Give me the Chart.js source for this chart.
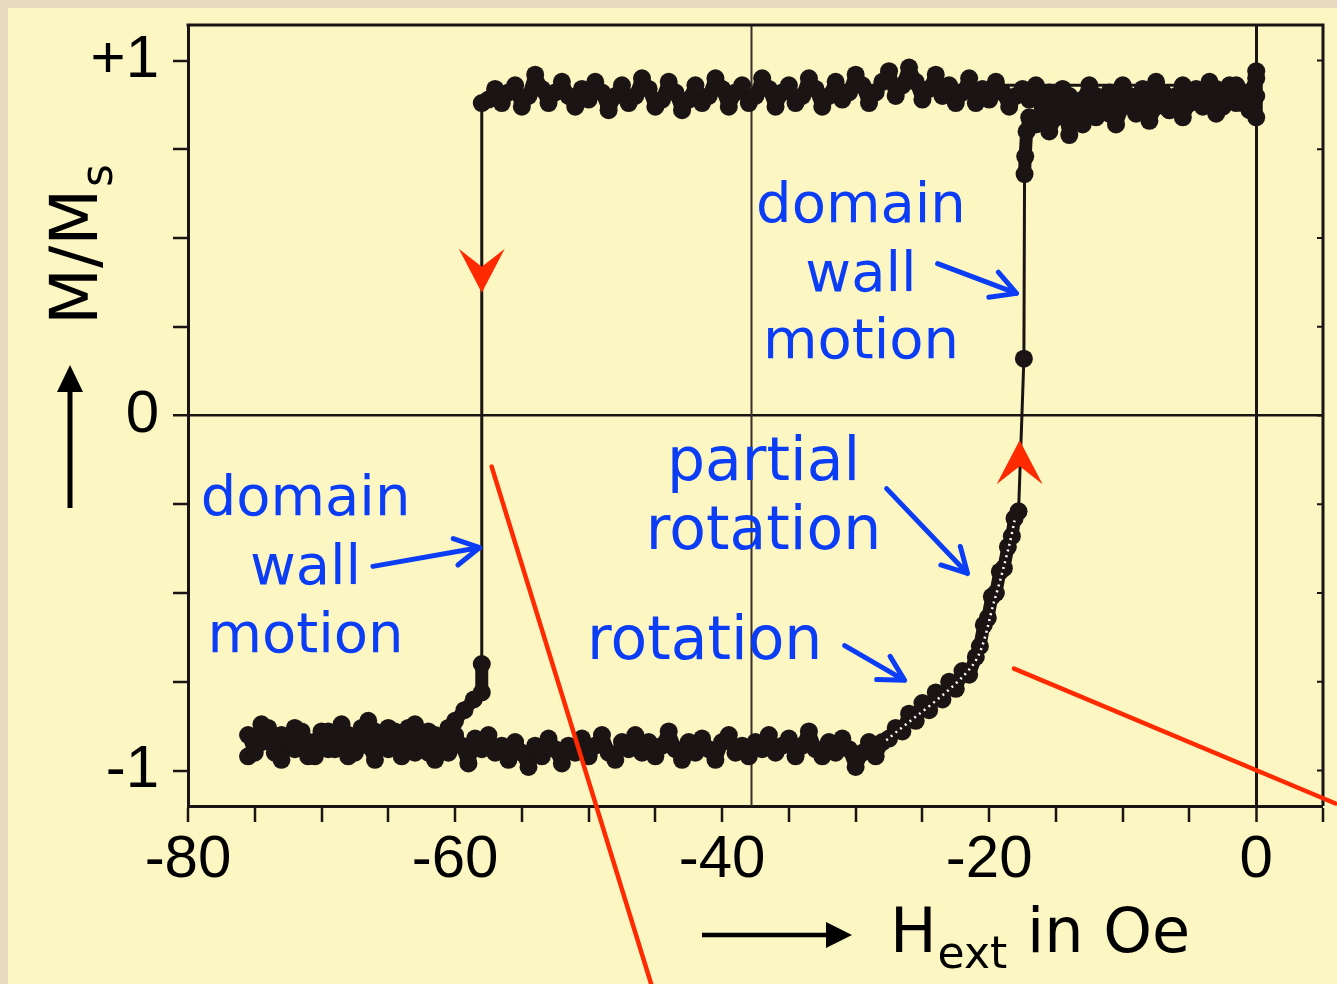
<!DOCTYPE html>
<html><head><meta charset="utf-8">
<script src="https://cdn.jsdelivr.net/npm/chart.js@4/dist/chart.umd.min.js"></script>
<style>
html,body{margin:0;padding:0;width:1337px;height:984px;overflow:hidden;background:#e6dbbf;}
#panel{position:absolute;left:8px;top:8px;width:1329px;height:976px;background:#fcf6c2;}
#c{position:absolute;left:0;top:0;}
</style></head><body>
<div id="panel"></div>
<canvas id="c" width="1337" height="984"></canvas>
<script>
// ---------- DATA ----------
// descending branch (field swept from 0 Oe to negative values)
const descH = [0,-0.5,-1,-1.5,-2,-2.5,-3,-3.5,-4,-4.5,-5,-5.5,-6,-6.5,-7,-7.5,-8,-8.5,-9,-9.5,-10,-10.5,-11,-11.5,-12,-12.5,-13,-13.5,-14,-14.5,-15,-15.5,-16,-16.5,-17,-17.5,-18,-18.5,-19,-19.5,-20,-20.5,-21,-21.5,-22,-22.5,-23,-23.5,-24,-24.5,-25,-25.5,-26,-26.5,-27,-27.5,-28,-28.5,-29,-29.5,-30,-30.5,-31,-31.5,-32,-32.5,-33,-33.5,-34,-34.5,-35,-35.5,-36,-36.5,-37,-37.5,-38,-38.5,-39,-39.5,-40,-40.5,-41,-41.5,-42,-42.5,-43,-43.5,-44,-44.5,-45,-45.5,-46,-46.5,-47,-47.5,-48,-48.5,-49,-49.5,-50,-50.5,-51,-51.5,-52,-52.5,-53,-53.5,-54,-54.5,-55,-55.5,-56,-56.5,-57,-57.5,-58,
  -58,-58,-58.6,-59.3,-60,
  -60.5,-61,-61.5,-62,-62.5,-63,-63.5,-64,-64.5,-65,-65.5,-66,-66.5,-67,-67.5,-68,-68.5,-69,-69.5,-70,-70.5,-71,-71.5,-72,-72.5,-73,-73.5,-74,-74.5,-75,-75.5];
const descM = [0.95,0.91,0.88,0.93,0.90,0.87,0.92,0.94,0.89,0.91,0.88,0.93,0.90,0.86,0.91,0.94,0.89,0.92,0.87,0.90,0.93,0.88,0.91,0.86,0.90,0.93,0.89,0.85,0.90,0.92,0.87,0.91,0.88,0.93,0.89,0.92,0.90,0.87,0.91,0.94,0.89,0.92,0.88,0.95,0.91,0.88,0.93,0.90,0.96,0.92,0.89,0.94,0.98,0.93,0.90,0.97,0.94,0.91,0.88,0.93,0.96,0.91,0.89,0.94,0.90,0.87,0.92,0.95,0.90,0.88,0.93,0.91,0.87,0.92,0.95,0.90,0.88,0.93,0.91,0.87,0.92,0.95,0.90,0.88,0.93,0.89,0.86,0.91,0.94,0.89,0.87,0.92,0.95,0.90,0.88,0.93,0.90,0.86,0.91,0.94,0.89,0.92,0.87,0.90,0.94,0.91,0.88,0.92,0.96,0.90,0.87,0.93,0.91,0.88,0.92,0.89,0.88,
  -0.70,-0.78,-0.80,-0.83,-0.86,
  -0.88,-0.93,-0.90,-0.95,-0.91,-0.87,-0.92,-0.96,-0.90,-0.88,-0.93,-0.89,-0.86,-0.91,-0.95,-0.90,-0.87,-0.92,-0.94,-0.89,-0.92,-0.96,-0.91,-0.88,-0.93,-0.90,-0.95,-0.91,-0.87,-0.93,-0.96];
// ascending branch (field swept from -75 Oe back to 0 Oe)
const ascH = [-75.5,-75,-74.5,-74,-73.5,-73,-72.5,-72,-71.5,-71,-70.5,-70,-69.5,-69,-68.5,-68,-67.5,-67,-66.5,-66,-65.5,-65,-64.5,-64,-63.5,-63,-62.5,-62,-61.5,-61,-60.5,-60,-59.5,-59,-58.5,-58,-57.5,-57,-56.5,-56,-55.5,-55,-54.5,-54,-53.5,-53,-52.5,-52,-51.5,-51,-50.5,-50,-49.5,-49,-48.5,-48,-47.5,-47,-46.5,-46,-45.5,-45,-44.5,-44,-43.5,-43,-42.5,-42,-41.5,-41,-40.5,-40,-39.5,-39,-38.5,-38,-37.5,-37,-36.5,-36,-35.5,-35,-34.5,-34,-33.5,-33,-32.5,-32,-31.5,-31,-30.5,-30,-29.5,-29,-28.5,-28,
  -27.5,-27,-26.5,-26,-25.5,-25,-24.5,-24,-23.5,-23,-22.5,-22,-21.5,-21,-20.7,-20.4,-20.1,-19.8,-19.5,-19.2,-18.9,-18.6,-18.3,-18.1,-17.8,
  -17.4,-17.35,-17.3,-17.2,-17,
  -16.5,-16,-15.5,-15,-14.5,-14,-13.5,-13,-12.5,-12,-11.5,-11,-10.5,-10,-9.5,-9,-8.5,-8,-7.5,-7,-6.5,-6,-5.5,-5,-4.5,-4,-3.5,-3,-2.5,-2,-1.5,-1,-0.5,0,0,0];
const ascM = [-0.90,-0.95,-0.92,-0.88,-0.93,-0.97,-0.91,-0.94,-0.89,-0.92,-0.96,-0.93,-0.89,-0.94,-0.91,-0.96,-0.92,-0.88,-0.93,-0.97,-0.91,-0.94,-0.89,-0.92,-0.88,-0.95,-0.93,-0.89,-0.97,-0.92,-0.95,-0.90,-0.93,-0.98,-0.91,-0.94,-0.90,-0.95,-0.93,-0.97,-0.92,-0.95,-0.99,-0.93,-0.96,-0.91,-0.94,-0.98,-0.93,-0.95,-0.91,-0.96,-0.93,-0.90,-0.95,-0.97,-0.92,-0.94,-0.90,-0.95,-0.92,-0.96,-0.93,-0.89,-0.94,-0.97,-0.92,-0.95,-0.91,-0.94,-0.97,-0.92,-0.90,-0.95,-0.93,-0.96,-0.92,-0.94,-0.90,-0.95,-0.93,-0.91,-0.96,-0.93,-0.89,-0.94,-0.96,-0.92,-0.95,-0.91,-0.94,-0.99,-0.95,-0.92,-0.96,-0.92,
  -0.91,-0.88,-0.89,-0.84,-0.86,-0.81,-0.83,-0.78,-0.80,-0.75,-0.77,-0.72,-0.73,-0.68,-0.65,-0.59,-0.57,-0.51,-0.50,-0.44,-0.43,-0.37,-0.34,-0.29,-0.27,
  0.16,0.68,0.73,0.80,0.84,
  0.82,0.86,0.80,0.84,0.88,0.79,0.85,0.82,0.87,0.84,0.89,0.85,0.82,0.87,0.90,0.85,0.88,0.83,0.87,0.91,0.86,0.89,0.84,0.88,0.92,0.87,0.90,0.85,0.89,0.93,0.88,0.91,0.86,0.90,0.84,0.97];
// fitted guide curves
const rotationFitH = [-27.7,-21.25,-19.6,-18.5,-18.1];
const rotationFitM = [-0.915,-0.704,-0.52,-0.366,-0.296];
const upperFitH = [-32,0];
const upperFitM = [0.93,0.93];
const refLineH = [-37.8,-37.8];
const refLineM = [-1.1,1.1];
// axes
const hTicks = [-80,-75,-70,-65,-60,-55,-50,-45,-40,-35,-30,-25,-20,-15,-10,-5,0,5];
const hTickLabels = ['-80','','','','-60','','','','-40','','','','-20','','','','0',''];
const mTicks = [-1,-0.75,-0.5,-0.25,0,0.25,0.5,0.75,1];
const mTickLabels = ['-1','','','','0','','','','+1'];

// ---------- helpers ----------
const pts = (xs, ys) => xs.map((x, i) => ({x, y: ys[i]}));
const INK = '#1b1414';
const BLUE = '#0b3cf6';
const RED = '#ff2a00';
const FONT = '"DejaVu Sans", sans-serif';
const TICKFONT = 'Liberation Sans';

const annotations = {
  blueTexts: [
    {lines:['domain','wall','motion'], x:-29.6, y:[0.544,0.352,0.163], size:56},
    {lines:['domain','wall','motion'], x:-71.2, y:[-0.279,-0.476,-0.665], size:56},
    {lines:['partial','rotation'], x:-36.9, y:[-0.183,-0.375], size:60},
    {lines:['rotation'], x:-41.3, y:[-0.685], size:60}
  ],
  blueArrows: [
    {from:[-23.86,0.428], to:[-17.95,0.344]},
    {from:[-66.15,-0.425], to:[-58.15,-0.372]},
    {from:[-27.68,-0.206], to:[-21.62,-0.445]},
    {from:[-30.82,-0.648], to:[-26.33,-0.746]}
  ],
  redLines: [
    {from:[-57.26,-0.144], to:[-45.3,-1.603]},
    {from:[-18.14,-0.713], to:[5.94,-1.093]}
  ],
  redHeads: [
    {tip:[-58.0,0.346], dir:1},
    {tip:[-17.72,-0.07], dir:-1}
  ]
};

const annotPlugin = {
  id: 'annot',
  afterDatasetsDraw(chart) {
    const {ctx, scales:{x, y}, chartArea:a} = chart;
    const px = v => x.getPixelForValue(v), py = v => y.getPixelForValue(v);
    ctx.save();
    // frame: top and right borders + inward ticks on right
    ctx.strokeStyle = INK; ctx.lineWidth = 3; ctx.lineCap = 'butt';
    ctx.beginPath();
    ctx.moveTo(a.left - 1.5, a.top); ctx.lineTo(a.right, a.top); ctx.lineTo(a.right, a.bottom);
    ctx.stroke();
    ctx.lineWidth = 2;
    ctx.beginPath();
    mTicks.forEach(v => { const yy = py(v); ctx.moveTo(a.right, yy); ctx.lineTo(a.right - 6, yy); });
    ctx.stroke();

    // red lines
    ctx.strokeStyle = RED; ctx.lineWidth = 4.5; ctx.lineCap = 'round';
    annotations.redLines.forEach(l => {
      ctx.beginPath(); ctx.moveTo(px(l.from[0]), py(l.from[1])); ctx.lineTo(px(l.to[0]), py(l.to[1])); ctx.stroke();
    });
    // red arrowheads
    ctx.fillStyle = RED;
    annotations.redHeads.forEach(h => {
      const tx = px(h.tip[0]), ty = py(h.tip[1]), d = h.dir;
      ctx.beginPath();
      ctx.moveTo(tx, ty);
      ctx.lineTo(tx - 23, ty - d * 44);
      ctx.lineTo(tx, ty - d * 26);
      ctx.lineTo(tx + 23, ty - d * 44);
      ctx.closePath(); ctx.fill();
    });
    // blue arrows
    ctx.strokeStyle = BLUE; ctx.lineWidth = 5; ctx.lineCap = 'round'; ctx.lineJoin = 'round';
    annotations.blueArrows.forEach(ar => {
      const x1 = px(ar.from[0]), y1 = py(ar.from[1]), x2 = px(ar.to[0]), y2 = py(ar.to[1]);
      const ang = Math.atan2(y2 - y1, x2 - x1), L = 28, s = 0.5;
      ctx.beginPath();
      ctx.moveTo(x1, y1); ctx.lineTo(x2, y2);
      ctx.moveTo(x2 - L * Math.cos(ang - s), y2 - L * Math.sin(ang - s));
      ctx.lineTo(x2, y2);
      ctx.lineTo(x2 - L * Math.cos(ang + s), y2 - L * Math.sin(ang + s));
      ctx.stroke();
    });
    // blue text
    ctx.fillStyle = BLUE; ctx.textAlign = 'center'; ctx.textBaseline = 'alphabetic';
    annotations.blueTexts.forEach(t => {
      ctx.font = `${t.size}px ${FONT}`;
      t.lines.forEach((s, i) => ctx.fillText(s, px(t.x), py(t.y[i])));
    });

    // axis titles with arrows
    ctx.fillStyle = '#000'; ctx.strokeStyle = '#000';
    // y title (rotated)
    ctx.save();
    ctx.translate(97, 325); ctx.rotate(-Math.PI / 2);
    ctx.textAlign = 'left'; ctx.textBaseline = 'alphabetic';
    ctx.font = `66px ${FONT}`;
    ctx.fillText('M/M', 0, 0);
    const wM = ctx.measureText('M/M').width;
    ctx.font = `44px ${FONT}`;
    ctx.fillText('s', wM + 2, 15);
    ctx.restore();
    // y arrow
    ctx.lineWidth = 5; ctx.lineCap = 'butt';
    ctx.beginPath(); ctx.moveTo(70, 508); ctx.lineTo(70, 385); ctx.stroke();
    ctx.beginPath(); ctx.moveTo(70, 365); ctx.lineTo(57, 392); ctx.lineTo(83, 392); ctx.closePath(); ctx.fill();
    // x title
    ctx.textAlign = 'left';
    ctx.font = `62px ${FONT}`;
    let cx = 890;
    ctx.fillText('H', cx, 952); cx += ctx.measureText('H').width + 1;
    ctx.font = `44px ${FONT}`;
    ctx.fillText('ext', cx, 968); cx += ctx.measureText('ext').width;
    ctx.font = `62px ${FONT}`;
    ctx.fillText(' in Oe', cx, 952);
    // x arrow
    ctx.lineWidth = 4.5;
    ctx.beginPath(); ctx.moveTo(702, 935); ctx.lineTo(832, 935); ctx.stroke();
    ctx.beginPath(); ctx.moveTo(852, 935); ctx.lineTo(826, 922); ctx.lineTo(826, 948); ctx.closePath(); ctx.fill();
    ctx.restore();
  }
};

// thick trace inside noisy bands, thin trace on the steep jumps
const traceWidth = c => Math.abs(c.p1.parsed.y - c.p0.parsed.y) > 0.15 ? 3 : 13;
const branchStyle = {
  showLine: true, borderColor: INK, borderWidth: 3, pointRadius: 9,
  pointBackgroundColor: INK, pointBorderWidth: 0, tension: 0,
  borderJoinStyle: 'round', borderCapStyle: 'round',
  segment: {borderWidth: traceWidth}
};

new Chart(document.getElementById('c'), {
  type: 'scatter',
  data: {
    datasets: [
      Object.assign({label: 'rotation fit', data: pts(rotationFitH, rotationFitM)}, {showLine: true, borderColor: '#ffffff', borderWidth: 2.5, borderDash: [2, 4], pointRadius: 0, order: 0, tension: 0.3}),
      Object.assign({label: 'descending', data: pts(descH, descM), order: 2}, branchStyle),
      Object.assign({label: 'ascending', data: pts(ascH, ascM), order: 1}, branchStyle),
      {label: 'upper fit', data: pts(upperFitH, upperFitM), showLine: true, borderColor: INK, borderWidth: 3, pointRadius: 0, order: 3},
      {label: 'reference', data: pts(refLineH, refLineM), showLine: true, borderColor: '#3a2e28', borderWidth: 2, pointRadius: 0, order: 5}
    ]
  },
  options: {
    responsive: false, animation: false, events: [], devicePixelRatio: 1,
    layout: {padding: {left: 0, top: 25, right: 14, bottom: 0}},
    plugins: {legend: {display: false}, tooltip: {enabled: false}},
    scales: {
      x: {
        type: 'linear', min: -80, max: 5,
        afterBuildTicks: s => { s.ticks = hTicks.map(v => ({value: v})); },
        afterFit: s => { s.height = 178; s.paddingLeft = 0; s.paddingRight = 0; },
        border: {color: INK, width: 3},
        grid: {
          color: c => (c.tick && c.tick.value === 0) ? INK : 'rgba(0,0,0,0)',
          lineWidth: c => (c.tick && c.tick.value === 0) ? 3 : 0,
          tickColor: INK, tickWidth: 2.5, tickLength: 16, drawTicks: true
        },
        ticks: {
          autoSkip: false, maxRotation: 0, color: '#000', padding: 2,
          font: {family: TICKFONT, size: 60},
          callback: (v, i) => hTickLabels[i]
        }
      },
      y: {
        type: 'linear', min: -1.1, max: 1.1,
        afterBuildTicks: s => { s.ticks = mTicks.map(v => ({value: v})); },
        afterFit: s => { s.width = 188; s.paddingTop = 0; s.paddingBottom = 0; },
        border: {color: INK, width: 3},
        grid: {
          color: c => (c.tick && c.tick.value === 0) ? INK : 'rgba(0,0,0,0)',
          lineWidth: c => (c.tick && c.tick.value === 0) ? 2.5 : 0,
          tickColor: INK, tickWidth: 2.5, tickLength: 15
        },
        ticks: {
          autoSkip: false, color: '#000', padding: 14,
          font: {family: TICKFONT, size: 60},
          callback: (v, i) => mTickLabels[i]
        }
      }
    }
  },
  plugins: [annotPlugin]
});
</script></body></html>
